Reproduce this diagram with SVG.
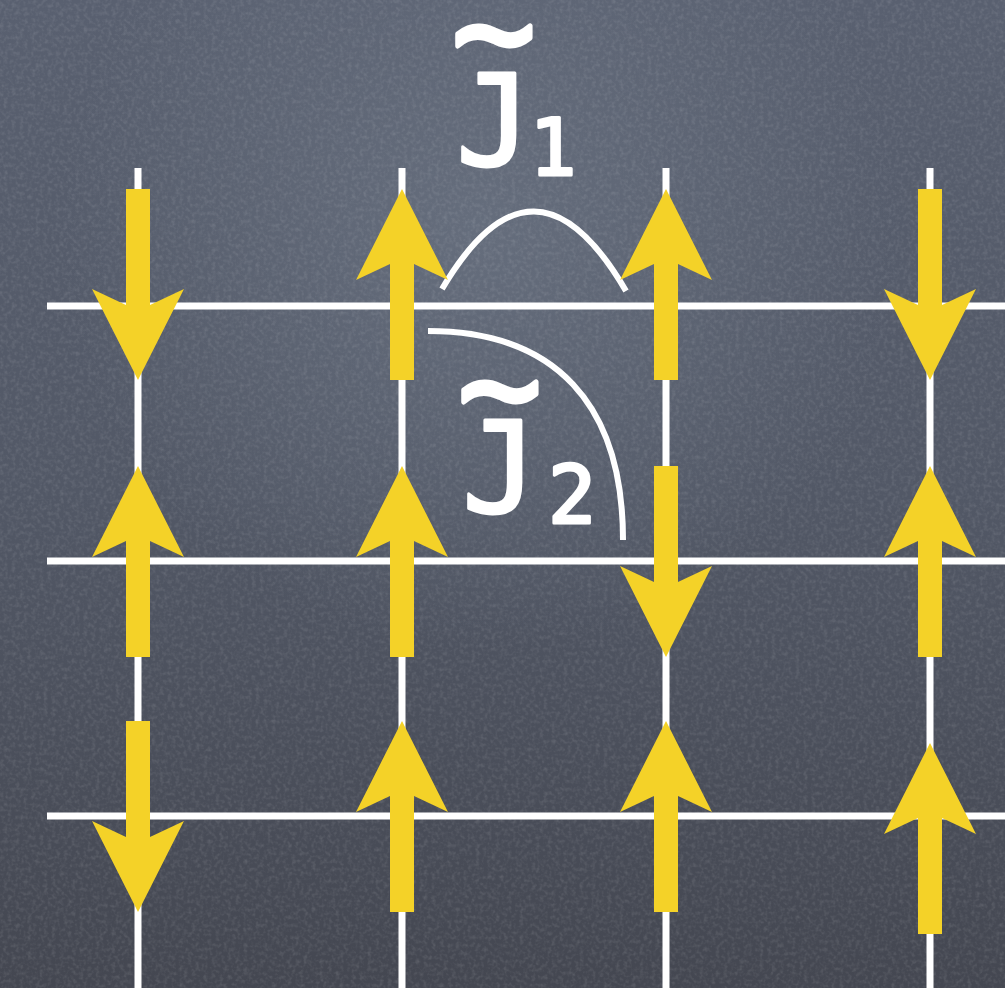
<svg xmlns="http://www.w3.org/2000/svg" xmlns:xlink="http://www.w3.org/1999/xlink" width="1005" height="988" viewBox="0 0 1005 988">
<style>
.grid{stroke:#ffffff;stroke-width:7;fill:none}
.arc{stroke:#ffffff;stroke-width:6;fill:none;stroke-linecap:butt}
.arrow{fill:#f4d228}
.lbl{font-family:"DejaVu Sans Mono","Liberation Mono",monospace;fill:#ffffff;stroke:#ffffff;stroke-width:3;stroke-linejoin:round;stroke-linecap:round;text-anchor:middle}
.tl{stroke-width:5}
</style>
<defs>
<linearGradient id="bg" x1="0" y1="0" x2="0" y2="1">
<stop offset="0" stop-color="#596070"/>
<stop offset="0.5" stop-color="#525866"/>
<stop offset="1" stop-color="#444751"/>
</linearGradient>
<radialGradient id="hl" cx="480" cy="230" r="420" gradientUnits="userSpaceOnUse">
<stop offset="0" stop-color="#6c7584" stop-opacity="0.7"/>
<stop offset="1" stop-color="#6c7584" stop-opacity="0"/>
</radialGradient>
<filter id="noise" x="0" y="0" width="100%" height="100%">
<feTurbulence type="fractalNoise" baseFrequency="0.25" numOctaves="2" seed="3"/>
<feColorMatrix type="matrix" values="0 0 0 0 1  0 0 0 0 1  0 0 0 0 1  0.9 0 0 0 -0.38"/>
</filter>
<polygon id="up" points="0,0 46,91 12,75 12,191 -12,191 -12,75 -46,91"/>
</defs>
<rect width="1005" height="988" fill="url(#bg)"/>
<rect width="1005" height="988" fill="url(#hl)"/>
<rect width="1005" height="988" filter="url(#noise)" opacity="0.25"/>

<g id="grid">
<line class="grid" x1="138" y1="168" x2="138" y2="988"/>
<line class="grid" x1="402" y1="168" x2="402" y2="988"/>
<line class="grid" x1="666" y1="168" x2="666" y2="988"/>
<line class="grid" x1="930" y1="168" x2="930" y2="988"/>
<line class="grid" x1="47" y1="306" x2="1005" y2="306"/>
<line class="grid" x1="47" y1="561" x2="1005" y2="561"/>
<line class="grid" x1="47" y1="816" x2="1005" y2="816"/>
</g>

<g id="connectors">
<path id="arc-J1" class="arc" d="M442,289 Q534,133 626,291"/>
<path id="arc-J2" class="arc" d="M428,331 C555,331 623,404 623,540"/>
</g>

<g id="arrows" class="arrow">
<g id="spin-1-1"><use xlink:href="#up" transform="translate(138,380) scale(1,-1)"/></g>
<g id="spin-2-1"><use xlink:href="#up" transform="translate(138,466)"/></g>
<g id="spin-3-1"><use xlink:href="#up" transform="translate(138,912) scale(1,-1)"/></g>
<g id="spin-1-2"><use xlink:href="#up" transform="translate(402,189)"/></g>
<g id="spin-2-2"><use xlink:href="#up" transform="translate(402,466)"/></g>
<g id="spin-3-2"><use xlink:href="#up" transform="translate(402,721)"/></g>
<g id="spin-1-3"><use xlink:href="#up" transform="translate(666,189)"/></g>
<g id="spin-2-3"><use xlink:href="#up" transform="translate(666,657) scale(1,-1)"/></g>
<g id="spin-3-3"><use xlink:href="#up" transform="translate(666,721)"/></g>
<g id="spin-1-4"><use xlink:href="#up" transform="translate(930,380) scale(1,-1)"/></g>
<g id="spin-2-4"><use xlink:href="#up" transform="translate(930,466)"/></g>
<g id="spin-3-4"><use xlink:href="#up" transform="translate(930,743)"/></g>
</g>

<g id="label-J1">
<text class="lbl"><tspan x="494" y="165" font-size="126">J</tspan><tspan class="tl" x="494" y="80" font-size="140">~</tspan></text>
<text class="lbl" x="553" y="175" font-size="78">1</text>
</g>
<g id="label-J2">
<text class="lbl"><tspan x="500" y="512" font-size="126">J</tspan><tspan class="tl" x="500" y="436" font-size="140">~</tspan></text>
<text class="lbl" x="572" y="523" font-size="80">2</text>
</g>
</svg>
